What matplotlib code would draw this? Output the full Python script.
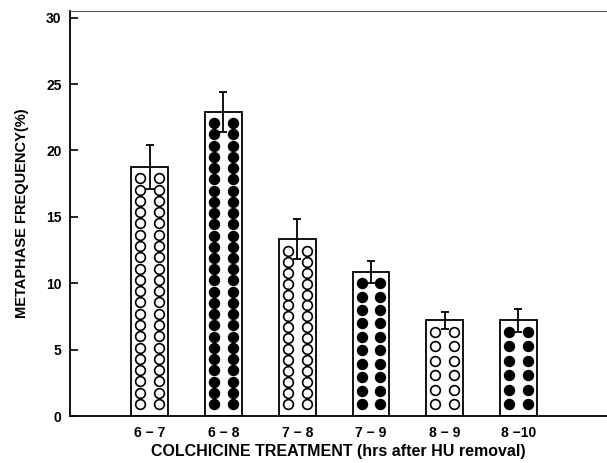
import matplotlib
matplotlib.use("Agg")
import matplotlib.pyplot as plt
import numpy as np

categories = ["6 − 7", "6 − 8", "7 − 8", "7 − 9", "8 − 9", "8 −10"]
values = [18.75, 22.9, 13.3, 10.85, 7.2, 7.2]
errors = [1.65, 1.5, 1.5, 0.8, 0.65, 0.85]
filled = [False, True, False, True, False, True]
dot_rows = [21, 26, 15, 10, 6, 6]
y_ticks = [0, 5, 10, 15, 20, 25, 30]

plt.rcParams['font.family'] = ['Liberation Sans', 'DejaVu Sans']
fig = plt.figure(figsize=(6.07, 4.63), dpi=100)
ax = fig.add_axes([70/607, 1-416/463, 1-70/607, (416-11)/463])

x = np.arange(len(categories))
ax.bar(x, values, width=0.5, facecolor='white', edgecolor='black', linewidth=1.3, zorder=2)
ax.errorbar(x, values, yerr=errors, fmt='none', ecolor='black', elinewidth=1.3,
            capsize=3, capthick=1.3, zorder=4)

for xi, h, f, n in zip(x, values, filled, dot_rows):
    ys = np.linspace(0.9, h - 0.85, n)
    for dx in (-0.128, 0.128):
        ax.plot(np.full(n, xi + dx), ys, linestyle='none', marker='o', markersize=7,
                markerfacecolor='black' if f else 'white', markeredgecolor='black',
                markeredgewidth=1.2, zorder=3)

ax.set_xlim(-1.08, 6.2)
ax.set_ylim(0, 30.5)
ax.set_yticks(y_ticks)
ax.set_yticklabels([str(t) for t in y_ticks], fontweight='bold', fontsize=10)
ax.set_xticks(x)
ax.set_xticklabels(categories, fontweight='bold', fontsize=10)
ax.tick_params(axis='y', direction='in', length=6, width=1.2, pad=6)
ax.tick_params(axis='x', length=0, pad=7)
ax.spines['right'].set_visible(False)
ax.spines['top'].set_color('#555555')
ax.spines['left'].set_linewidth(1.3)
ax.spines['bottom'].set_linewidth(1.3)
ax.set_xlabel("COLCHICINE TREATMENT (hrs after HU removal)", fontweight='bold', fontsize=11.5, labelpad=3)
ax.set_ylabel("METAPHASE FREQUENCY(%)", fontweight='bold', fontsize=10.5, labelpad=12)

fig.savefig("out.png", dpi=100)
